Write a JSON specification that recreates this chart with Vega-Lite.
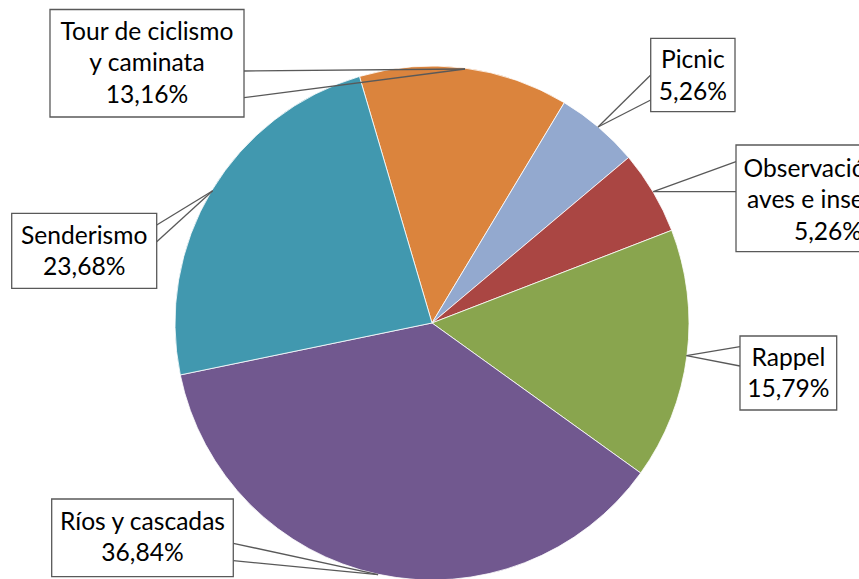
{
  "$schema": "https://vega.github.io/schema/vega-lite/v6.json",
  "width": 859,
  "height": 579,
  "autosize": {"type": "none"},
  "padding": 0,
  "background": "white",
  "config": {"view": {"stroke": null}},
  "datasets": {
    "slices": [
      {"actividad": "Tour de ciclismo y caminata", "pct": 13.16, "orden": 1},
      {"actividad": "Picnic", "pct": 5.26, "orden": 2},
      {"actividad": "Observación de aves e insectos", "pct": 5.26, "orden": 3},
      {"actividad": "Rappel", "pct": 15.79, "orden": 4},
      {"actividad": "Ríos y cascadas", "pct": 36.84, "orden": 5},
      {"actividad": "Senderismo", "pct": 23.68, "orden": 6}
    ],
    "callouts": [
      {"label": "Tour de ciclismo\ny caminata\n13,16%", "bx1": -1.4864, "bx2": -0.7315, "by1": 1.2198, "by2": 0.8016, "cx": -1.109, "ly": 1.1012, "wx": -0.7315, "wya": 0.9805, "wyb": 0.8767, "tx": 0.1284, "ty": 0.9883},
      {"label": "Picnic\n5,26%", "bx1": 0.851, "bx2": 1.179, "by1": 1.1078, "by2": 0.8222, "cx": 1.015, "ly": 0.9922, "wx": 0.851, "wya": 0.965, "wyb": 0.8677, "tx": 0.6459, "ty": 0.7626},
      {"label": "Observación de\naves e insectos\n5,26%", "bx1": 1.1829, "bx2": 1.8988, "by1": 0.6926, "by2": 0.2774, "cx": 1.5409, "ly": 0.5693, "wx": 1.1829, "wya": 0.6276, "wyb": 0.5109, "tx": 0.8611, "ty": 0.5109},
      {"label": "Rappel\n15,79%", "bx1": 1.1984, "bx2": 1.5747, "by1": -0.0506, "by2": -0.3385, "cx": 1.3866, "ly": -0.1673, "wx": 1.1984, "wya": -0.0922, "wyb": -0.1673, "tx": 0.99, "ty": -0.127},
      {"label": "Ríos y cascadas\n36,84%", "bx1": -1.4798, "bx2": -0.7732, "by1": -0.6848, "by2": -0.9872, "cx": -1.1265, "ly": -0.8054, "wx": -0.7732, "wya": -0.8572, "wyb": -0.9249, "tx": -0.21, "ty": -0.979},
      {"label": "Senderismo\n23,68%", "bx1": -1.6354, "bx2": -1.0712, "by1": 0.4268, "by2": 0.135, "cx": -1.3533, "ly": 0.3074, "wx": -1.0712, "wya": 0.3813, "wyb": 0.3163, "tx": -0.8533, "ty": 0.5148}
    ]
  },
  "layer": [
    {
      "data": {"name": "slices"},
      "mark": {"type": "arc", "outerRadius": 257, "stroke": "white", "strokeWidth": 0.8},
      "encoding": {
        "x": {"datum": 0, "type": "quantitative", "scale": {"domain": [-1.68093, 1.66148], "nice": false, "zero": false}, "axis": null},
        "y": {"datum": 0, "type": "quantitative", "scale": {"domain": [-0.99611, 1.25681], "nice": false, "zero": false}, "axis": null},
        "theta": {"field": "pct", "type": "quantitative", "stack": true, "scale": {"range": [-0.2862, 5.997]}},
        "order": {"field": "orden", "type": "quantitative"},
        "color": {
          "field": "actividad", "type": "nominal", "legend": null,
          "scale": {
            "domain": ["Tour de ciclismo y caminata", "Picnic", "Observación de aves e insectos", "Rappel", "Ríos y cascadas", "Senderismo"],
            "range": ["#DB843D", "#93A9CF", "#AA4643", "#89A54E", "#71588F", "#4198AF"]
          }
        }
      }
    },
    {
      "data": {"name": "callouts"},
      "mark": {"type": "rule", "color": "#595959", "strokeWidth": 1.3},
      "encoding": {
        "x": {"field": "wx", "type": "quantitative", "axis": null, "scale": {"domain": [-1.68093, 1.66148], "nice": false, "zero": false}},
        "y": {"field": "wya", "type": "quantitative", "axis": null, "scale": {"domain": [-0.99611, 1.25681], "nice": false, "zero": false}},
        "x2": {"field": "tx"},
        "y2": {"field": "ty"}
      }
    },
    {
      "data": {"name": "callouts"},
      "mark": {"type": "rule", "color": "#595959", "strokeWidth": 1.3},
      "encoding": {
        "x": {"field": "wx", "type": "quantitative", "axis": null, "scale": {"domain": [-1.68093, 1.66148], "nice": false, "zero": false}},
        "y": {"field": "wyb", "type": "quantitative", "axis": null, "scale": {"domain": [-0.99611, 1.25681], "nice": false, "zero": false}},
        "x2": {"field": "tx"},
        "y2": {"field": "ty"}
      }
    },
    {
      "data": {"name": "callouts"},
      "mark": {"type": "rect", "fill": "white", "stroke": "#595959", "strokeWidth": 1.3},
      "encoding": {
        "x": {"field": "bx1", "type": "quantitative", "axis": null, "scale": {"domain": [-1.68093, 1.66148], "nice": false, "zero": false}},
        "x2": {"field": "bx2"},
        "y": {"field": "by1", "type": "quantitative", "axis": null, "scale": {"domain": [-0.99611, 1.25681], "nice": false, "zero": false}},
        "y2": {"field": "by2"}
      }
    },
    {
      "data": {"name": "callouts"},
      "mark": {"type": "text", "font": "Lato", "fontSize": 24.6, "color": "#000000", "align": "center", "baseline": "alphabetic", "lineBreak": "\n", "lineHeight": 31.5},
      "encoding": {
        "x": {"field": "cx", "type": "quantitative", "axis": null, "scale": {"domain": [-1.68093, 1.66148], "nice": false, "zero": false}},
        "y": {"field": "ly", "type": "quantitative", "axis": null, "scale": {"domain": [-0.99611, 1.25681], "nice": false, "zero": false}},
        "text": {"field": "label"}
      }
    }
  ]
}
